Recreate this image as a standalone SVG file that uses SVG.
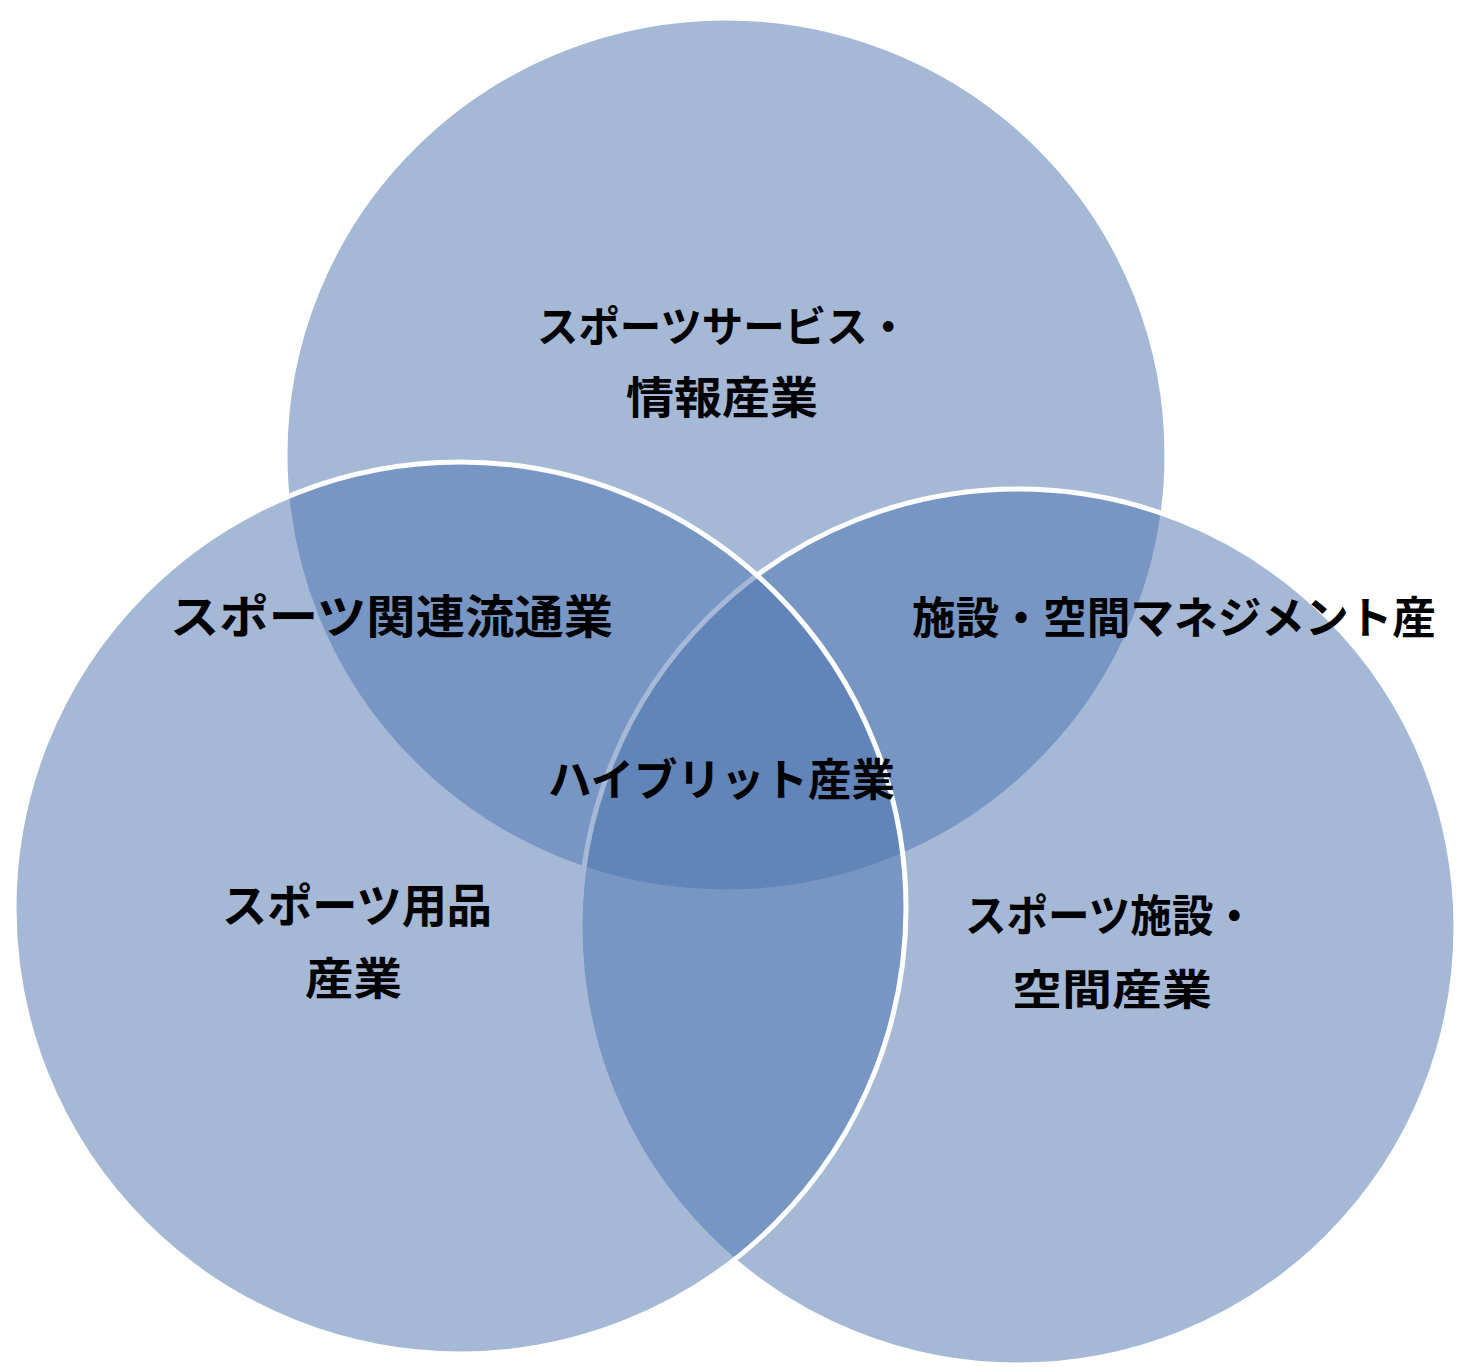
<svg xmlns="http://www.w3.org/2000/svg" width="1460" height="1367" viewBox="0 0 1460 1367">
<style>
.c{fill:rgb(75,115,175);fill-opacity:0.5;stroke:#fff;stroke-width:5}
.t{font-family:"Noto Sans CJK JP","Noto Sans CJK SC",sans-serif;font-weight:bold;fill:#000;dominant-baseline:central}
</style>
<rect width="1460" height="1367" fill="#fff"/>
<g id="circle-top"><ellipse class="c" cx="726" cy="455" rx="441" ry="437"/></g>
<g id="circle-right"><circle class="c" cx="1018" cy="927" r="438"/></g>
<g id="circle-left"><circle class="c" cx="460" cy="908" r="446"/></g>
<g id="label-top">
<text class="t" x="537" y="323" font-size="42" textLength="372" lengthAdjust="spacingAndGlyphs">スポーツサービス・</text>
<text class="t" x="626" y="395" font-size="44" textLength="192" lengthAdjust="spacingAndGlyphs">情報産業</text>
</g>
<g id="label-top-left"><text class="t" x="170" y="613" font-size="46" textLength="443" lengthAdjust="spacingAndGlyphs">スポーツ関連流通業</text></g>
<g id="label-top-right"><text class="t" x="912" y="615" font-size="44" textLength="524" lengthAdjust="spacingAndGlyphs">施設・空間マネジメント産</text></g>
<g id="label-center"><text class="t" x="548" y="777" font-size="44" textLength="347" lengthAdjust="spacingAndGlyphs">ハイブリット産業</text></g>
<g id="label-left">
<text class="t" x="222" y="902" font-size="46" textLength="270" lengthAdjust="spacingAndGlyphs">スポーツ用品</text>
<text class="t" x="305" y="976" font-size="44" textLength="97" lengthAdjust="spacingAndGlyphs">産業</text>
</g>
<g id="label-right">
<text class="t" x="965" y="913" font-size="44" textLength="290" lengthAdjust="spacingAndGlyphs">スポーツ施設・</text>
<text class="t" x="1012" y="986" font-size="42" textLength="200" lengthAdjust="spacingAndGlyphs">空間産業</text>
</g>
</svg>
